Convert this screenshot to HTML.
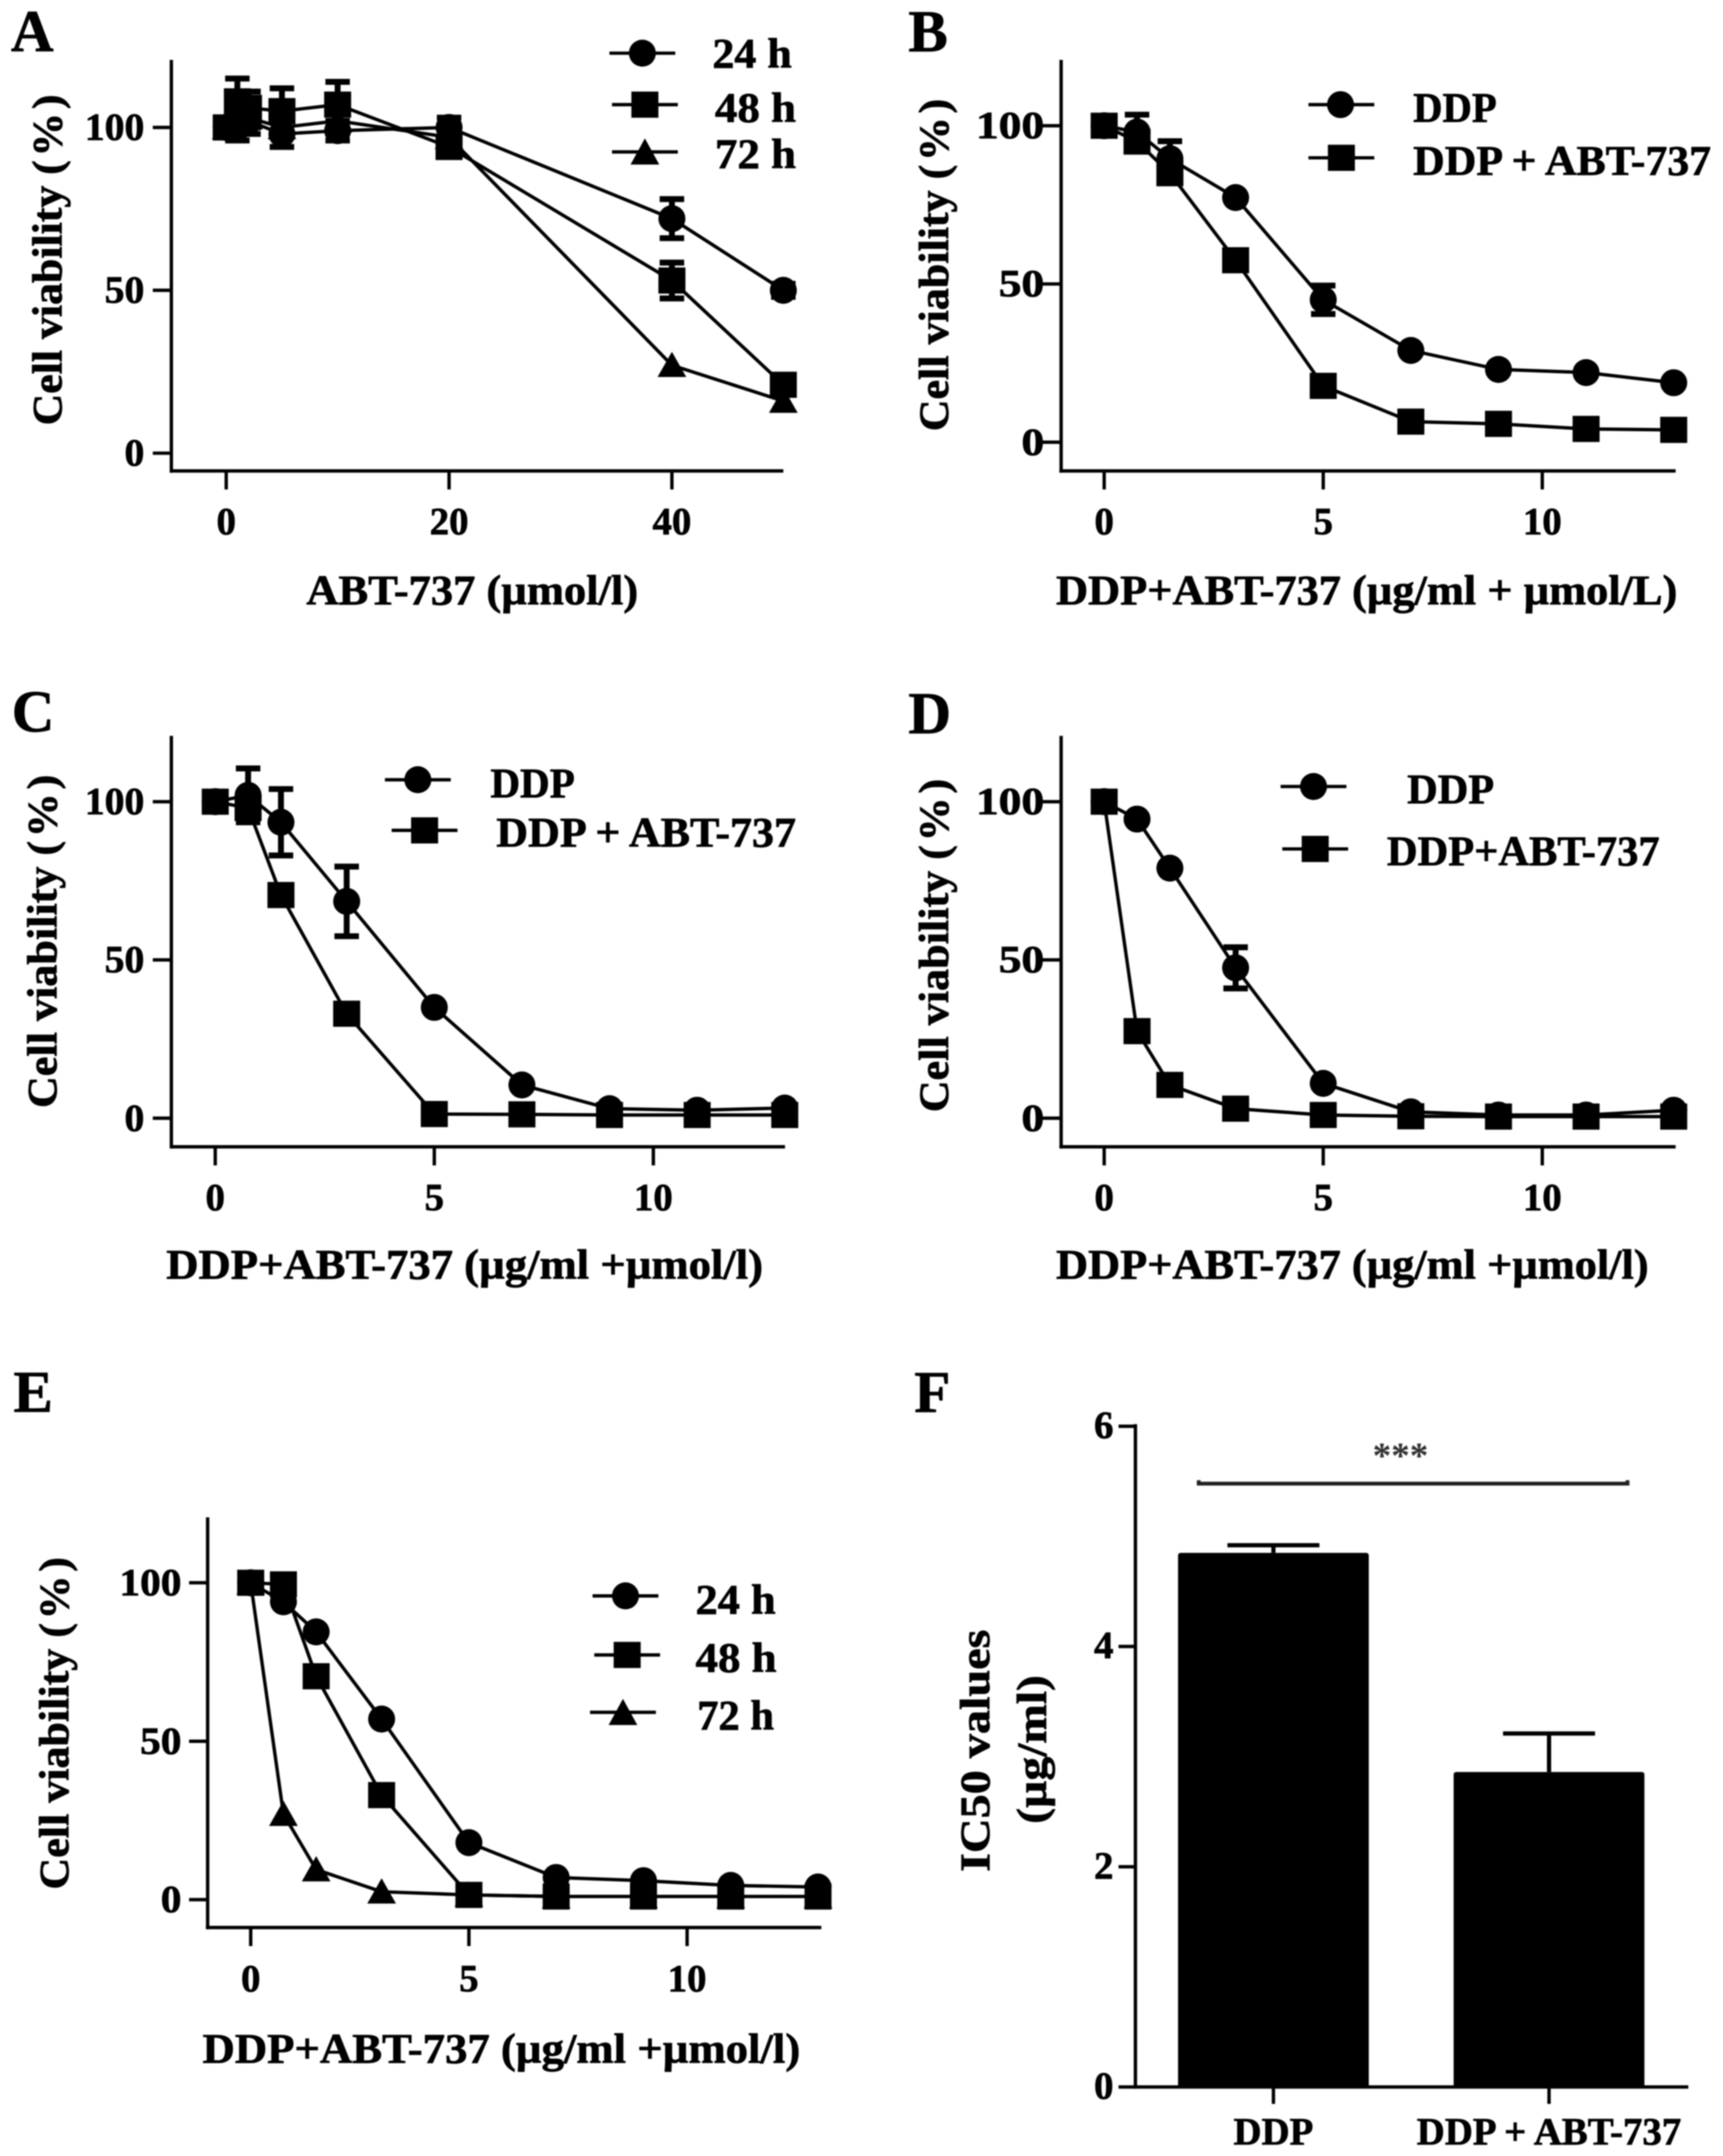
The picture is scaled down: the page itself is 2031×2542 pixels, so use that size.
<!DOCTYPE html>
<html lang="en">
<head>
<meta charset="utf-8">
<title>Cell viability panels A-F</title>
<style>
html,body{margin:0;padding:0;background:#fff;}
svg{display:block;}
text{font-family:"Liberation Serif","DejaVu Serif",serif;font-weight:bold;fill:#000;stroke:#000;stroke-width:0.8;}
.letter{font-size:70px;}
.tick{font-size:46px;}
.title{font-size:50px;}
.leg{font-size:50px;}
.ln{stroke:#000;stroke-width:4;fill:none;}
</style>
</head>
<body>
<svg id="figure" xmlns="http://www.w3.org/2000/svg" width="2031" height="2542" viewBox="0 0 2031 2542">
<defs><filter id="soft" x="0" y="0" width="100%" height="100%"><feGaussianBlur stdDeviation="0.9"/></filter></defs>
<rect x="0" y="0" width="2031" height="2542" fill="#fff"/>
<g id="root" filter="url(#soft)">

<g id="panelA" transform="scale(0.995)">
<text class="letter" x="13" y="61">A</text>
<text class="title" transform="translate(73,504) rotate(-90)" textLength="392" lengthAdjust="spacingAndGlyphs">Cell viability (&#8202;%&#8202;)</text>
<text class="title" x="363" y="716" textLength="393" lengthAdjust="spacingAndGlyphs">ABT-737 (µmol/l)</text>
<g>
<line class="ln" x1="722" y1="63" x2="800" y2="63"/>
<circle cx="761" cy="63" r="16"/>
<text class="leg" x="844" y="80" textLength="94" lengthAdjust="spacingAndGlyphs">24 h</text>
<line class="ln" x1="725" y1="124" x2="803" y2="124"/>
<rect x="748" y="108.5" width="32" height="31"/>
<text class="leg" x="847" y="144" textLength="96" lengthAdjust="spacingAndGlyphs">48 h</text>
<line class="ln" x1="725" y1="180" x2="803" y2="180"/>
<polygon points="747,195 781,195 764,164"/>
<text class="leg" x="847" y="199" textLength="96" lengthAdjust="spacingAndGlyphs">72 h</text>
</g>
</g>

<g id="panelB" transform="translate(1016,0) scale(0.995) translate(-1016,0)">
<text class="letter" x="1071" y="61">B</text>
<text class="title" transform="translate(1118,511) rotate(-90)" textLength="394" lengthAdjust="spacingAndGlyphs">Cell viability (&#8202;%&#8202;)</text>
<text class="title" x="1246" y="716" textLength="736" lengthAdjust="spacingAndGlyphs">DDP+ABT-737 (µg/ml + µmol/L)</text>
<g>
<line class="ln" x1="1545" y1="124" x2="1623" y2="124"/>
<circle cx="1583" cy="124" r="16"/>
<text class="leg" x="1669" y="144" textLength="99" lengthAdjust="spacingAndGlyphs">DDP</text>
<line class="ln" x1="1545" y1="187" x2="1623" y2="187"/>
<rect x="1568" y="171.5" width="32" height="31"/>
<text class="leg" x="1669" y="207" textLength="353" lengthAdjust="spacingAndGlyphs">DDP + ABT-737</text>
</g>
</g>

<g id="panelC" transform="translate(0,790) scale(0.995) translate(0,-790)">
<text class="letter" x="14" y="863">C</text>
<text class="title" transform="translate(67,1309) rotate(-90)" textLength="395" lengthAdjust="spacingAndGlyphs">Cell viability (&#8202;%&#8202;)</text>
<text class="title" x="197" y="1511" textLength="707" lengthAdjust="spacingAndGlyphs">DDP+ABT-737 (µg/ml +µmol/l)</text>
<g>
<line class="ln" x1="456" y1="920" x2="534" y2="920"/>
<circle cx="495" cy="920" r="16"/>
<text class="leg" x="581" y="941" textLength="100" lengthAdjust="spacingAndGlyphs">DDP</text>
<line class="ln" x1="464" y1="980" x2="542" y2="980"/>
<rect x="487" y="964.5" width="32" height="31"/>
<text class="leg" x="588" y="999" textLength="355" lengthAdjust="spacingAndGlyphs">DDP + ABT-737</text>
</g>
</g>

<g id="panelD" transform="translate(1016,790) scale(0.995) translate(-1016,-790)">
<text class="letter" x="1071" y="865">D</text>
<text class="title" transform="translate(1118,1314) rotate(-90)" textLength="395" lengthAdjust="spacingAndGlyphs">Cell viability (&#8202;%&#8202;)</text>
<text class="title" x="1246" y="1511" textLength="702" lengthAdjust="spacingAndGlyphs">DDP+ABT-737 (µg/ml +µmol/l)</text>
<g>
<line class="ln" x1="1512" y1="928" x2="1590" y2="928"/>
<circle cx="1551" cy="928" r="16"/>
<text class="leg" x="1662" y="948" textLength="103" lengthAdjust="spacingAndGlyphs">DDP</text>
<line class="ln" x1="1514" y1="1002" x2="1592" y2="1002"/>
<rect x="1537" y="986.5" width="32" height="31"/>
<text class="leg" x="1638" y="1021" textLength="323" lengthAdjust="spacingAndGlyphs">DDP+ABT-737</text>
</g>
</g>

<g id="panelE" transform="translate(0,1600) scale(0.995) translate(0,-1600)">
<text class="letter" x="16" y="1665">E</text>
<text class="title" transform="translate(81,2231) rotate(-90)" textLength="394" lengthAdjust="spacingAndGlyphs">Cell viability (&#8202;%&#8202;)</text>
<text class="title" x="240" y="2436" textLength="708" lengthAdjust="spacingAndGlyphs">DDP+ABT-737 (µg/ml +µmol/l)</text>
<g>
<line class="ln" x1="702" y1="1883" x2="780" y2="1883"/>
<circle cx="741" cy="1883" r="16"/>
<text class="leg" x="824" y="1904" textLength="95" lengthAdjust="spacingAndGlyphs">24 h</text>
<line class="ln" x1="704" y1="1953" x2="782" y2="1953"/>
<rect x="727" y="1937.5" width="32" height="31"/>
<text class="leg" x="824" y="1973" textLength="96" lengthAdjust="spacingAndGlyphs">48 h</text>
<line class="ln" x1="699" y1="2021" x2="777" y2="2021"/>
<polygon points="721,2036 755,2036 738,2005"/>
<text class="leg" x="826" y="2041" textLength="91" lengthAdjust="spacingAndGlyphs">72 h</text>
</g>
</g>

<g id="panelF" transform="translate(1016,1600) scale(0.995) translate(-1016,-1600)">
<text class="letter" x="1078" y="1665">F</text>
<text class="title" transform="translate(1167,2210) rotate(-90)" textLength="287" lengthAdjust="spacingAndGlyphs">IC50 values</text>
<text class="title" transform="translate(1234,2153) rotate(-90)" textLength="176" lengthAdjust="spacingAndGlyphs">(µg/ml)</text>
<text x="1654" y="1731" text-anchor="middle" style="font-size:44px;fill:#333;stroke:none">***</text>
<path d="M1415 1746 V1750 H1923 V1746" fill="none" stroke="#222" stroke-width="4.5"/>
</g>
</g>
</svg>

<script>
// Shared x values
const abtDoses = [0, 1, 2, 5, 10, 20, 40, 50];
const comboDoses = [0, 0.75, 1.5, 3, 5, 7, 9, 11, 13];

// Tick labels
const xTicksA = [0, 20, 40];
const xTicksDose = [0, 5, 10];
const yTicksViability = [0, 50, 100];
const yTicksIC50 = [0, 2, 4, 6];

// Panel A
const a24h = [100, 100, 102, 98, 99, 100, 72, 50];
const a24hErr = [1, 4, 4, 4, 3, 3, 6, 2];
const a48h = [100, 108, 106, 105, 107, 94, 53, 21];
const a48hErr = [1, 7, 5, 7, 7, 3, 5.5, 2];
const a72h = [100, 103, 103, 100, 102, 97, 27, 16];
const a72hErr = [0, 3, 3, 3, 3, 2, 0, 0];

// Panel B
const bDDP = [100, 98, 89.6, 77.3, 45, 29, 23, 22, 18.8];
const bDDPErr = [0, 5.5, 5.5, 1, 4.5, 1, 1, 1, 1];
const bCombo = [100, 95, 85, 57.5, 17.8, 6.5, 5.8, 4.2, 3.9];
const bComboErr = [0, 1, 1, 1, 1, 1, 1, 1, 1];

// Panel C
const cDDP = [100, 102, 93.5, 68.5, 35, 10.5, 3, 2.5, 3.2];
const cDDPErr = [0, 8.5, 10.5, 11, 1, 1, 1, 0.5, 0.5];
const cCombo = [100, 98, 70.5, 33, 1.3, 1.2, 1, 1, 1];
const cComboErr = [0, 1, 1, 1, 0.5, 0.5, 0.5, 0.5, 0.5];

// Panel D
const dDDP = [100, 94.5, 79, 47.5, 11, 2, 1, 1, 2.5];
const dDDPErr = [0, 0.5, 0.5, 6.5, 1, 0.5, 0.5, 0.5, 0.5];
const dCombo = [100, 27.5, 10.5, 3, 1, 0.6, 0.5, 0.5, 0.5];
const dComboErr = [0, 0.5, 0.5, 0.5, 0.5, 0.5, 0.5, 0.5, 0.5];

// Panel E
const e24h = [100, 94, 84.5, 57, 18, 7, 6, 4.5, 4];
const e48h = [100, 99.5, 70.5, 33, 1.5, 1, 1, 1, 1];
const e72h = [100, 27, 9.5, 2.5, 1.5, 1, 1, 1, 1];
const eErr = [0, 0, 0, 0, 0, 0, 0, 0, 0];

// Panel F
const barCategories = ['DDP', 'DDP + ABT-737'];
const barValues = [4.85, 2.86];
const barErrors = [0.07, 0.35];

const NS = 'http://www.w3.org/2000/svg';
function make(parent, tag, attrs, txt) {
  const el = document.createElementNS(NS, tag);
  for (const k in attrs) el.setAttribute(k, attrs[k]);
  if (txt !== undefined) el.textContent = txt;
  parent.appendChild(el);
  return el;
}

function drawAxes(g, key, p, xTicks, yTicks) {
  const sx = v => p.xZero + v * p.xUnit;
  const sy = v => p.yZero - v * p.yUnit;
  const line = { stroke: '#000', 'stroke-width': 4 };
  const yAxis = make(g, 'line', Object.assign({ x1: p.ax, y1: p.top, x2: p.ax, y2: p.ay + 2 }, line));
  
  
  const xAxis = make(g, 'line', Object.assign({ x1: p.ax - 2, y1: p.ay, x2: p.xEnd, y2: p.ay }, line));
  
  
  yTicks.forEach(v => {
    const t = make(g, 'line', Object.assign({ x1: p.ax - 22, y1: sy(v), x2: p.ax, y2: sy(v) }, line));
    
    
    const label = String(v);
    const l = make(g, 'text', {
      class: 'tick', x: p.yLabelRight - label.length * p.digitW, y: sy(v) + 15,
      textLength: label.length * p.digitW, lengthAdjust: 'spacingAndGlyphs'
    }, label);
    
    
  });
  xTicks.forEach(v => {
    const t = make(g, 'line', Object.assign({ x1: sx(v), y1: p.ay, x2: sx(v), y2: p.ay + 22 }, line));
    
    
    const l = make(g, 'text', { class: 'tick', x: sx(v), y: p.xLabelY, 'text-anchor': 'middle' }, String(v));
    
    
  });
  return { sx, sy };
}

function drawSeries(g, key, name, shape, xs, ys, errs, s) {
  const group = make(g, 'g', {});
  
  
  const pl = make(group, 'polyline', {
    points: xs.map((x, i) => s.sx(x) + ',' + s.sy(ys[i])).join(' '),
    fill: 'none', stroke: '#000', 'stroke-width': 4
  });
  
  
  xs.forEach((x, i) => {
    const cx = s.sx(x), cy = s.sy(ys[i]);
    const hi = s.sy(ys[i] + errs[i]), lo = s.sy(ys[i] - errs[i]);
    if (errs[i] > 0) {
      const eb = make(group, 'path', {
        d: 'M' + (cx - 14.5) + ' ' + hi + 'H' + (cx + 14.5) + 'M' + cx + ' ' + hi + 'V' + lo + 'M' + (cx - 14.5) + ' ' + lo + 'H' + (cx + 14.5),
        fill: 'none', stroke: '#000', 'stroke-width': 7
      });
      
      
    }
    let m;
    if (shape === 'circle') {
      m = make(group, 'circle', { cx: cx, cy: cy, r: 16 });
    } else if (shape === 'square') {
      m = make(group, 'rect', { x: cx - 16, y: cy - 15.5, width: 32, height: 31 });
    } else {
      m = make(group, 'polygon', { points: (cx - 17) + ',' + (cy + 14) + ' ' + (cx + 17) + ',' + (cy + 14) + ' ' + cx + ',' + (cy - 16) });
    }
    
    
  });
}

function panel(id, key, geom, xTicks, xs, list) {
  const g = document.getElementById(id);
  const s = drawAxes(g, key, geom, xTicks, yTicksViability);
  list.forEach(d => drawSeries(g, key, d[0], d[1], xs, d[2], d[3], s));
}

panel('panelA', 'a',
  { ax: 203, ay: 558, top: 71, xEnd: 928, xZero: 268, xUnit: 13.2, yZero: 537, yUnit: 3.86, yLabelRight: 171, xLabelY: 633, digitW: 23.5 },
  xTicksA, abtDoses,
  [['24h', 'circle', a24h, a24hErr], ['48h', 'square', a48h, a48hErr], ['72h', 'triangle', a72h, a72hErr]]);

panel('panelB', 'b',
  { ax: 1252, ay: 558, top: 71, xEnd: 1980, xZero: 1303, xUnit: 51.9, yZero: 524, yUnit: 3.75, yLabelRight: 1232, xLabelY: 633, digitW: 27 },
  xTicksDose, comboDoses,
  [['ddp', 'circle', bDDP, bDDPErr], ['ddp-abt-737', 'square', bCombo, bComboErr]]);

panel('panelC', 'c',
  { ax: 203, ay: 1355, top: 868, xEnd: 930, xZero: 255, xUnit: 51.9, yZero: 1321, yUnit: 3.75, yLabelRight: 171, xLabelY: 1430, digitW: 23.5 },
  xTicksDose, comboDoses,
  [['ddp', 'circle', cDDP, cDDPErr], ['ddp-abt-737', 'square', cCombo, cComboErr]]);

panel('panelD', 'd',
  { ax: 1252, ay: 1355, top: 868, xEnd: 1980, xZero: 1303, xUnit: 51.9, yZero: 1321, yUnit: 3.75, yLabelRight: 1232, xLabelY: 1430, digitW: 27 },
  xTicksDose, comboDoses,
  [['ddp', 'circle', dDDP, dDDPErr], ['ddp-abt-737', 'square', dCombo, dComboErr]]);

panel('panelE', 'e',
  { ax: 246, ay: 2276, top: 1790, xEnd: 973, xZero: 297, xUnit: 51.7, yZero: 2243, yUnit: 3.755, yLabelRight: 215, xLabelY: 2352, digitW: 24.5 },
  xTicksDose, comboDoses,
  [['72h', 'triangle', e72h, eErr], ['24h', 'circle', e24h, eErr], ['48h', 'square', e48h, eErr]]);

(function () {
  const g = document.getElementById('panelF');
  const p = { ax: 1340, ay: 2465, top: 1681.5, xEnd: 1995, unit: 130.5 };
  const sy = v => p.ay - v * p.unit;
  const barX = i => 1503.5 + i * 326.5;
  const barW = 226;
  const yAxis = make(g, 'line', { x1: p.ax, y1: p.top - 2, x2: p.ax, y2: p.ay + 2, stroke: '#000', 'stroke-width': 4 });
  
  
  const xAxis = make(g, 'line', { x1: p.ax, y1: p.ay, x2: p.xEnd, y2: p.ay, stroke: '#000', 'stroke-width': 4 });
  
  
  yTicksIC50.forEach(v => {
    const t = make(g, 'line', { x1: p.ax - 20, y1: sy(v), x2: p.ax, y2: sy(v), stroke: '#000', 'stroke-width': 4 });
    
    
    const l = make(g, 'text', { class: 'tick', x: 1314, y: sy(v) + 14, 'text-anchor': 'end' }, String(v));
    
    
  });
  barCategories.forEach((c, i) => {
    const cx = barX(i);
    const err = make(g, 'path', {
      d: 'M' + (cx - 54.5) + ' ' + sy(barValues[i] + barErrors[i]) + 'H' + (cx + 54.5) + 'M' + cx + ' ' + sy(barValues[i] + barErrors[i]) + 'V' + sy(barValues[i]),
      fill: 'none', stroke: '#000', 'stroke-width': 5
    });
    
    
    const b = make(g, 'rect', { x: cx - barW / 2, y: sy(barValues[i]), width: barW, height: p.ay - sy(barValues[i]), rx: 3 });
    
    
    const t = make(g, 'line', { x1: cx, y1: p.ay, x2: cx, y2: p.ay + 20, stroke: '#000', 'stroke-width': 4 });
    
    
    const l = make(g, 'text', { class: 'tick', x: cx, y: 2533, 'text-anchor': 'middle' }, c);
    
    
  });
})();
</script>
</body>
</html>
